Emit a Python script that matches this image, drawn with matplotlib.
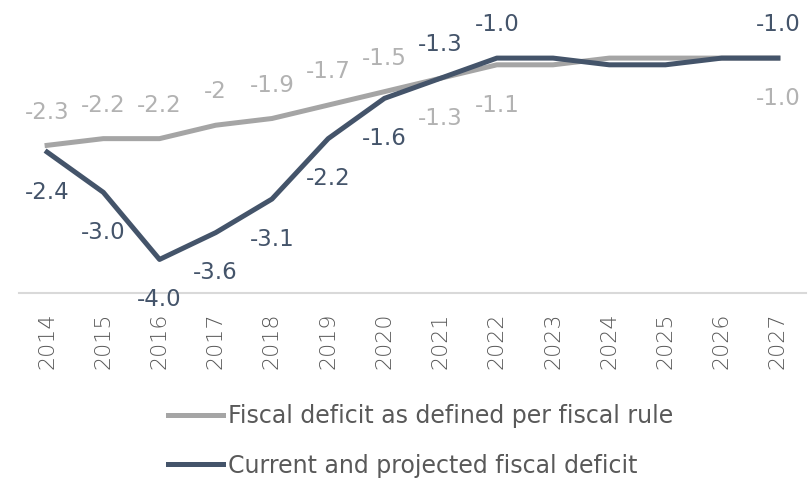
import matplotlib
matplotlib.use('Agg')
from matplotlib import pyplot as plt

years = ['2014', '2015', '2016', '2017', '2018', '2019', '2020',
         '2021', '2022', '2023', '2024', '2025', '2026', '2027']
rule_deficit = [-2.3, -2.2, -2.2, -2.0, -1.9, -1.7, -1.5,
                -1.3, -1.1, -1.1, -1.0, -1.0, -1.0, -1.0]
current_deficit = [-2.4, -3.0, -4.0, -3.6, -3.1, -2.2, -1.6,
                   -1.3, -1.0, -1.0, -1.1, -1.1, -1.0, -1.0]
# label text, and whether it sits above (+1) or below (-1) the point; None = no label
rule_labels = ['-2.3', '-2.2', '-2.2', '-2', '-1.9', '-1.7', '-1.5',
               '-1.3', '-1.1', None, None, None, None, '-1.0']
rule_sides = [1, 1, 1, 1, 1, 1, 1, -1, -1, 0, 0, 0, 0, -1]
current_labels = ['-2.4', '-3.0', '-4.0', '-3.6', '-3.1', '-2.2', '-1.6',
                  '-1.3', '-1.0', None, None, None, None, '-1.0']
current_sides = [-1, -1, -1, -1, -1, -1, -1, 1, 1, 0, 0, 0, 0, 1]

GRAY = '#a5a5a5'
GRAY_TEXT = '#b2b2b2'
NAVY = '#44546a'
TICK = '#595959'

plt.rcParams['font.family'] = ['DejaVu Sans']

fig = plt.figure(figsize=(8.08, 4.84), dpi=100)
ax = fig.add_axes([19 / 808, 191 / 484, 787 / 808, 293 / 484])
xs = list(range(len(years)))

ax.plot(xs, rule_deficit, color=GRAY, lw=3.6, solid_joinstyle='round',
        label='Fiscal deficit as defined per fiscal rule')
ax.plot(xs, current_deficit, color=NAVY, lw=3.6, solid_joinstyle='round',
        label='Current and projected fiscal deficit')


def add_labels(values, labels, sides, color):
    for x, v, lab, side in zip(xs, values, labels, sides):
        if lab is None:
            continue
        dy = 24 if side > 0 else -29
        ax.annotate(lab, (x, v), xytext=(0, dy), textcoords='offset points',
                    ha='center', va='center', fontsize=16.5, color=color)


add_labels(rule_deficit, rule_labels, rule_sides, GRAY_TEXT)
add_labels(current_deficit, current_labels, current_sides, NAVY)

ax.set_xlim(-0.5, len(years) - 0.5)
ax.set_ylim(-4.5, -1.0 + 58 / 67)
ax.set_xticks(xs)
ax.set_xticklabels(years, rotation=90, fontsize=16, color=TICK, fontweight='light')
ax.tick_params(axis='x', length=0, pad=14)
ax.set_yticks([])
for side in ['top', 'right', 'left']:
    ax.spines[side].set_visible(False)
ax.spines['bottom'].set_color('#d9d9d9')
ax.spines['bottom'].set_linewidth(1.5)

fig.legend(loc='upper left', bbox_to_anchor=(147 / 808, 1 - 383 / 484),
           frameon=False, ncol=1, handlelength=2.3, handletextpad=0.25,
           labelspacing=1.08, prop={'size': 17}, labelcolor=TICK)

fig.savefig('out.png', dpi=100)
